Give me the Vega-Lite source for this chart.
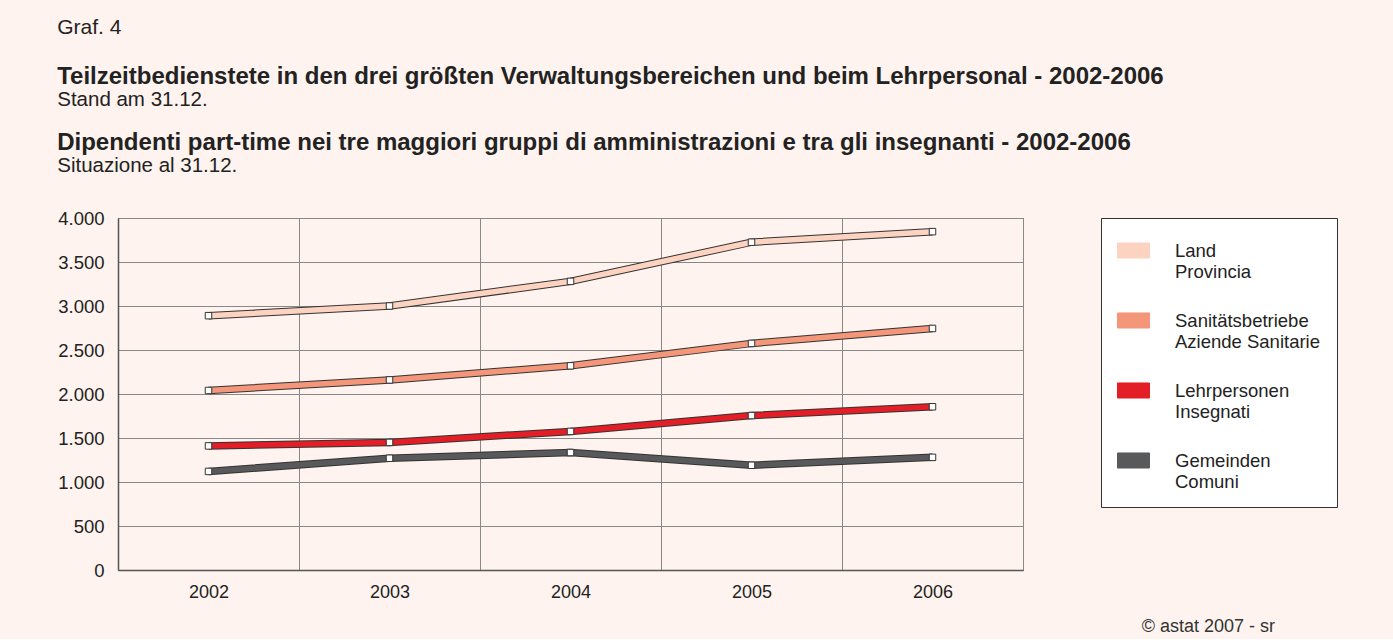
{
  "$schema": "https://vega.github.io/schema/vega-lite/v6.json",
  "background": "#FEF3EE",
  "padding": {"left": 57, "top": 17, "right": 56, "bottom": 2},
  "config": {
    "font": "Liberation Sans",
    "view": {"stroke": "#444", "strokeWidth": 1},
    "title": {"anchor": "start", "color": "#222", "font": "Liberation Sans", "subtitleColor": "#222", "subtitleFont": "Liberation Sans"},
    "concat": {"spacing": 0}
  },
  "title": {"text": "Graf. 4", "fontSize": 21, "fontWeight": "normal", "offset": 27},
  "vconcat": [
    {
      "title": {"text": "Teilzeitbedienstete in den drei größten Verwaltungsbereichen und beim Lehrpersonal - 2002-2006", "subtitle": "Stand am 31.12.", "fontSize": 24, "fontWeight": "bold", "subtitleFontSize": 20.5, "subtitlePadding": 1, "offset": 20.5},
      "vconcat": [
        {
          "title": {"text": "Dipendenti part-time nei tre maggiori gruppi di amministrazioni e tra gli insegnanti - 2002-2006", "subtitle": "Situazione al 31.12.", "fontSize": 24, "fontWeight": "bold", "subtitleFontSize": 20.5, "subtitlePadding": 1, "offset": 32},
          "vconcat": [
            {
              "title": {"text": "© astat 2007 - sr", "orient": "bottom", "anchor": "end", "fontSize": 18, "fontWeight": "normal", "color": "#333", "offset": 17, "dx": 252},
              "width": 905,
              "height": 352,
              "data": {"values": [
                {"year": "2002", "series": "Land|Provincia", "value": 2890},
                {"year": "2003", "series": "Land|Provincia", "value": 3000},
                {"year": "2004", "series": "Land|Provincia", "value": 3280},
                {"year": "2005", "series": "Land|Provincia", "value": 3725},
                {"year": "2006", "series": "Land|Provincia", "value": 3845},
                {"year": "2002", "series": "Sanitätsbetriebe|Aziende Sanitarie", "value": 2040},
                {"year": "2003", "series": "Sanitätsbetriebe|Aziende Sanitarie", "value": 2160},
                {"year": "2004", "series": "Sanitätsbetriebe|Aziende Sanitarie", "value": 2320},
                {"year": "2005", "series": "Sanitätsbetriebe|Aziende Sanitarie", "value": 2575},
                {"year": "2006", "series": "Sanitätsbetriebe|Aziende Sanitarie", "value": 2745},
                {"year": "2002", "series": "Lehrpersonen|Insegnati", "value": 1410},
                {"year": "2003", "series": "Lehrpersonen|Insegnati", "value": 1450},
                {"year": "2004", "series": "Lehrpersonen|Insegnati", "value": 1575},
                {"year": "2005", "series": "Lehrpersonen|Insegnati", "value": 1755},
                {"year": "2006", "series": "Lehrpersonen|Insegnati", "value": 1855},
                {"year": "2002", "series": "Gemeinden|Comuni", "value": 1120},
                {"year": "2003", "series": "Gemeinden|Comuni", "value": 1270},
                {"year": "2004", "series": "Gemeinden|Comuni", "value": 1335},
                {"year": "2005", "series": "Gemeinden|Comuni", "value": 1190},
                {"year": "2006", "series": "Gemeinden|Comuni", "value": 1280}
              ]},
              "encoding": {
                "x": {
                  "field": "year", "type": "ordinal", "bandPosition": 0.5,
                  "scale": {"type": "band", "paddingInner": 0, "paddingOuter": 0},
                  "axis": {"title": null, "labelAngle": 0, "labelFontSize": 18, "labelColor": "#222", "labelPadding": 13, "ticks": false, "grid": true, "tickBand": "extent", "gridColor": "#888", "gridWidth": 1, "domainColor": "#555", "domainWidth": 1.5}
                },
                "y": {
                  "field": "value", "type": "quantitative",
                  "scale": {"domain": [0, 4000], "nice": false},
                  "axis": {"title": null, "values": [0, 500, 1000, 1500, 2000, 2500, 3000, 3500, 4000], "labelExpr": "replace(format(datum.value, ','), ',', '.')", "labelFontSize": 18.5, "labelColor": "#222", "labelPadding": 14, "ticks": false, "gridColor": "#888", "gridWidth": 1, "domainColor": "#555", "domainWidth": 1.5}
                }
              },
              "layer": [
                {
                  "mark": {"type": "line", "stroke": "#333", "strokeWidth": 7.5},
                  "encoding": {"detail": {"field": "series"}}
                },
                {
                  "mark": {"type": "line", "strokeWidth": 5.5},
                  "encoding": {
                    "color": {
                      "field": "series", "type": "nominal",
                      "scale": {"domain": ["Land|Provincia", "Sanitätsbetriebe|Aziende Sanitarie", "Lehrpersonen|Insegnati", "Gemeinden|Comuni"], "range": ["#FCD2C0", "#F4967A", "#E41E26", "#58595B"]},
                      "legend": {
                        "title": null,
                        "orient": "none",
                        "legendX": 983,
                        "legendY": 0,
                        "padding": 16,
                        "fillColor": "#FFFFFF",
                        "strokeColor": "#333",
                        "symbolType": "M-1,-0.47H1V0.47H-1Z",
                        "symbolSize": 1024,
                        "symbolStrokeWidth": 1,
                        "symbolStrokeColor": "#333",
                        "labelExpr": "split(datum.label, '|')",
                        "labelFontSize": 18.5,
                        "labelColor": "#222",
                        "labelOffset": 25,
                        "labelLimit": 400,
                        "rowPadding": 23,
                        "encode": {
                          "symbols": {"update": {"fill": {"scale": "color", "field": "value"}, "stroke": {"value": "#333"}, "strokeWidth": {"value": 1}, "fillOpacity": {"value": 1}}},
                          "labels": {"update": {"lineHeight": {"value": 21}}}
                        }
                      }
                    }
                  }
                },
                {
                  "mark": {"type": "point", "shape": "square", "filled": true, "fill": "#FFFFFF", "stroke": "#333", "strokeWidth": 1, "size": 42, "opacity": 1},
                  "encoding": {"detail": {"field": "series"}}
                }
              ]
            }
          ]
        }
      ]
    }
  ]
}
